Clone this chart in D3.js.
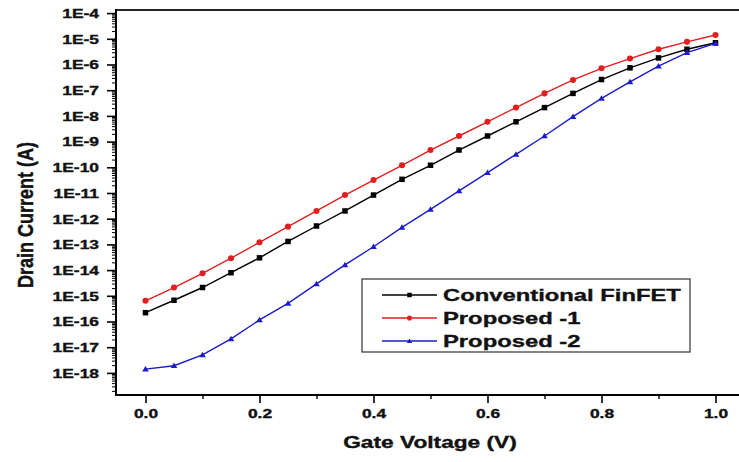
<!DOCTYPE html>
<html>
<head>
<meta charset="utf-8">
<script src="https://cdn.jsdelivr.net/npm/d3@7"></script>
<style>
  html, body { margin: 0; padding: 0; background: #fff; }
  svg { display: block; }
  text { font-family: "Liberation Sans", Arial, sans-serif; font-weight: bold; fill: #111;
         stroke: #111; stroke-width: 0.35px; }
</style>
</head>
<body>
<svg id="chart" width="739" height="462"></svg>
<script>
// Gate voltage sweep (V)
const gateVoltage = [0.00, 0.05, 0.10, 0.15, 0.20, 0.25, 0.30, 0.35, 0.40, 0.45, 0.50,
                     0.55, 0.60, 0.65, 0.70, 0.75, 0.80, 0.85, 0.90, 0.95, 1.00];

// Drain current (A) for each device
const conventional = [2.2e-16, 6.7e-16, 2.1e-15, 7.9e-15, 3.0e-14, 1.3e-13, 5.2e-13, 2.0e-12,
                      8.3e-12, 3.4e-11, 1.2e-10, 4.7e-10, 1.65e-9, 5.9e-9, 2.1e-8, 7.5e-8,
                      2.6e-7, 7.4e-7, 1.8e-6, 3.9e-6, 7.0e-6];
const proposed1 = [6.4e-16, 2.1e-15, 7.5e-15, 2.9e-14, 1.2e-13, 4.9e-13, 2.0e-12, 8.3e-12,
                   3.2e-11, 1.2e-10, 4.7e-10, 1.65e-9, 5.9e-9, 2.1e-8, 7.5e-8, 2.5e-7,
                   7.1e-7, 1.7e-6, 3.9e-6, 7.6e-6, 1.4e-5];
const proposed2 = [1.4e-18, 1.9e-18, 5.0e-18, 2.1e-17, 1.15e-16, 5.1e-16, 2.9e-15, 1.6e-14,
                   8.1e-14, 4.6e-13, 2.3e-12, 1.2e-11, 6.2e-11, 3.2e-10, 1.65e-9, 9.3e-9,
                   4.8e-8, 2.1e-7, 8.7e-7, 2.9e-6, 6.6e-6];

const seriesNames = ["Conventional FinFET", "Proposed -1", "Proposed -2"];
const seriesColors = ["#000000", "#e02020", "#1c1cc8"];
const seriesMarkers = ["square", "circle", "triangle"];

// Axis ticks
const xMajorTicks = [0.0, 0.2, 0.4, 0.6, 0.8, 1.0];
const xMinorTicks = [0.1, 0.3, 0.5, 0.7, 0.9];
const yMajorExponents = [-4, -5, -6, -7, -8, -9, -10, -11, -12, -13, -14, -15, -16, -17, -18];

const svg = d3.select("#chart");

// Plot frame (right edge runs off the canvas)
const frame = { left: 116, right: 760, top: 10, bottom: 395 };

const x = d3.scaleLinear().domain([0, 1]).range([145.5, 715.5]);
const y = d3.scaleLog().domain([Math.pow(10, -18.86), Math.pow(10, -3.88)]).range([frame.bottom, frame.top]);

const textStretch = 1.45;

// ---- Y axis: major ticks with labels, minor ticks per decade
const yMajor = yMajorExponents.map(e => Math.pow(10, e));
const yMinor = [];
for (let e = -19; e <= -4; e++) {
  for (let m = 2; m <= 9; m++) {
    const v = m * Math.pow(10, e);
    if (v >= y.domain()[0] && v <= y.domain()[1]) yMinor.push(v);
  }
}

const yAxisG = svg.append("g").attr("transform", `translate(${frame.left},0)`)
  .call(d3.axisLeft(y).tickValues(yMajor).tickSize(9).tickPadding(0)
    .tickFormat(v => "1E" + Math.round(Math.log10(v))));
yAxisG.select(".domain").remove();
yAxisG.selectAll(".tick line").attr("stroke", "#000").attr("stroke-width", 1.6);
yAxisG.selectAll(".tick text")
  .attr("x", 0).attr("dy", "0.36em")
  .attr("transform", `translate(-17,0) scale(${textStretch},1)`)
  .style("font-size", "12px").style("font-family", "'Liberation Sans', Arial, sans-serif")
  .style("font-weight", "bold").attr("fill", "#111");

const yMinorG = svg.append("g").attr("transform", `translate(${frame.left},0)`)
  .call(d3.axisLeft(y).tickValues(yMinor).tickSize(4).tickFormat(""));
yMinorG.select(".domain").remove();
yMinorG.selectAll(".tick line").attr("stroke", "#000").attr("stroke-width", 1);

// ---- X axis
const xAxisG = svg.append("g").attr("transform", `translate(0,${frame.bottom})`)
  .call(d3.axisBottom(x).tickValues(xMajorTicks).tickSize(8).tickFormat(d3.format(".1f")));
xAxisG.select(".domain").remove();
xAxisG.selectAll(".tick line").attr("stroke", "#000").attr("stroke-width", 1.6);
xAxisG.selectAll(".tick text")
  .attr("y", 23).attr("dy", 0)
  .attr("transform", `scale(${textStretch},1)`)
  .style("font-size", "12px").style("font-family", "'Liberation Sans', Arial, sans-serif")
  .style("font-weight", "bold").attr("fill", "#111");

const xMinorG = svg.append("g").attr("transform", `translate(0,${frame.bottom})`)
  .call(d3.axisBottom(x).tickValues(xMinorTicks).tickSize(4).tickFormat(""));
xMinorG.select(".domain").remove();
xMinorG.selectAll(".tick line").attr("stroke", "#000").attr("stroke-width", 1.4);

// ---- Frame lines
svg.append("line").attr("x1", frame.left).attr("x2", frame.right).attr("y1", frame.top).attr("y2", frame.top)
  .attr("stroke", "#222").attr("stroke-width", 1.8);
svg.append("line").attr("x1", frame.left).attr("x2", frame.left).attr("y1", frame.top - 0.9).attr("y2", frame.bottom + 1)
  .attr("stroke", "#000").attr("stroke-width", 2);
svg.append("line").attr("x1", frame.left - 1).attr("x2", frame.right).attr("y1", frame.bottom).attr("y2", frame.bottom)
  .attr("stroke", "#000").attr("stroke-width", 2);

// ---- Axis titles
svg.append("g").attr("transform", `translate(33,215) scale(1.25,1) rotate(-90)`)
  .append("text").attr("text-anchor", "middle")
  .style("font-size", "18px").text("Drain Current (A)");

svg.append("g").attr("transform", `translate(430,448) scale(1.42,1)`)
  .append("text").attr("text-anchor", "middle")
  .style("font-size", "16px").text("Gate Voltage (V)");

// ---- Series
const allSeries = [conventional, proposed1, proposed2];
const line = d3.line().x(d => x(d[0])).y(d => y(d[1]));

function drawMarker(g, kind, cx, cy, color, s) {
  if (kind === "square") {
    g.append("rect").attr("x", cx - s / 2).attr("y", cy - s / 2)
      .attr("width", s).attr("height", s).attr("fill", color);
  } else if (kind === "circle") {
    g.append("circle").attr("cx", cx).attr("cy", cy).attr("r", s / 2 + 0.3).attr("fill", color);
  } else {
    const h = s * 0.95;
    g.append("path")
      .attr("d", `M${cx},${cy - h * 0.6}L${cx + s * 0.6},${cy + h * 0.45}L${cx - s * 0.6},${cy + h * 0.45}Z`)
      .attr("fill", color);
  }
}

allSeries.forEach((vals, i) => {
  const pts = gateVoltage.map((v, j) => [v, vals[j]]);
  const g = svg.append("g");
  g.append("path").attr("d", line(pts)).attr("fill", "none")
    .attr("stroke", seriesColors[i]).attr("stroke-width", 1.4);
  pts.forEach(p => drawMarker(g, seriesMarkers[i], x(p[0]), y(p[1]), seriesColors[i], 5.5));
});

// ---- Legend
const legend = svg.append("g");
legend.append("rect").attr("x", 362).attr("y", 279).attr("width", 328).attr("height", 73)
  .attr("fill", "#fff").attr("stroke", "#333").attr("stroke-width", 1.2);
const rowY = [295, 318, 341];
seriesNames.forEach((name, i) => {
  legend.append("line").attr("x1", 382).attr("x2", 437).attr("y1", rowY[i]).attr("y2", rowY[i])
    .attr("stroke", seriesColors[i]).attr("stroke-width", 1.4);
  drawMarker(legend, seriesMarkers[i], 409.5, rowY[i], seriesColors[i], 4.5);
  legend.append("g").attr("transform", `translate(443,${rowY[i] + 6}) scale(1.4,1)`)
    .append("text").style("font-size", "17px").text(name);
});
</script>
</body>
</html>
